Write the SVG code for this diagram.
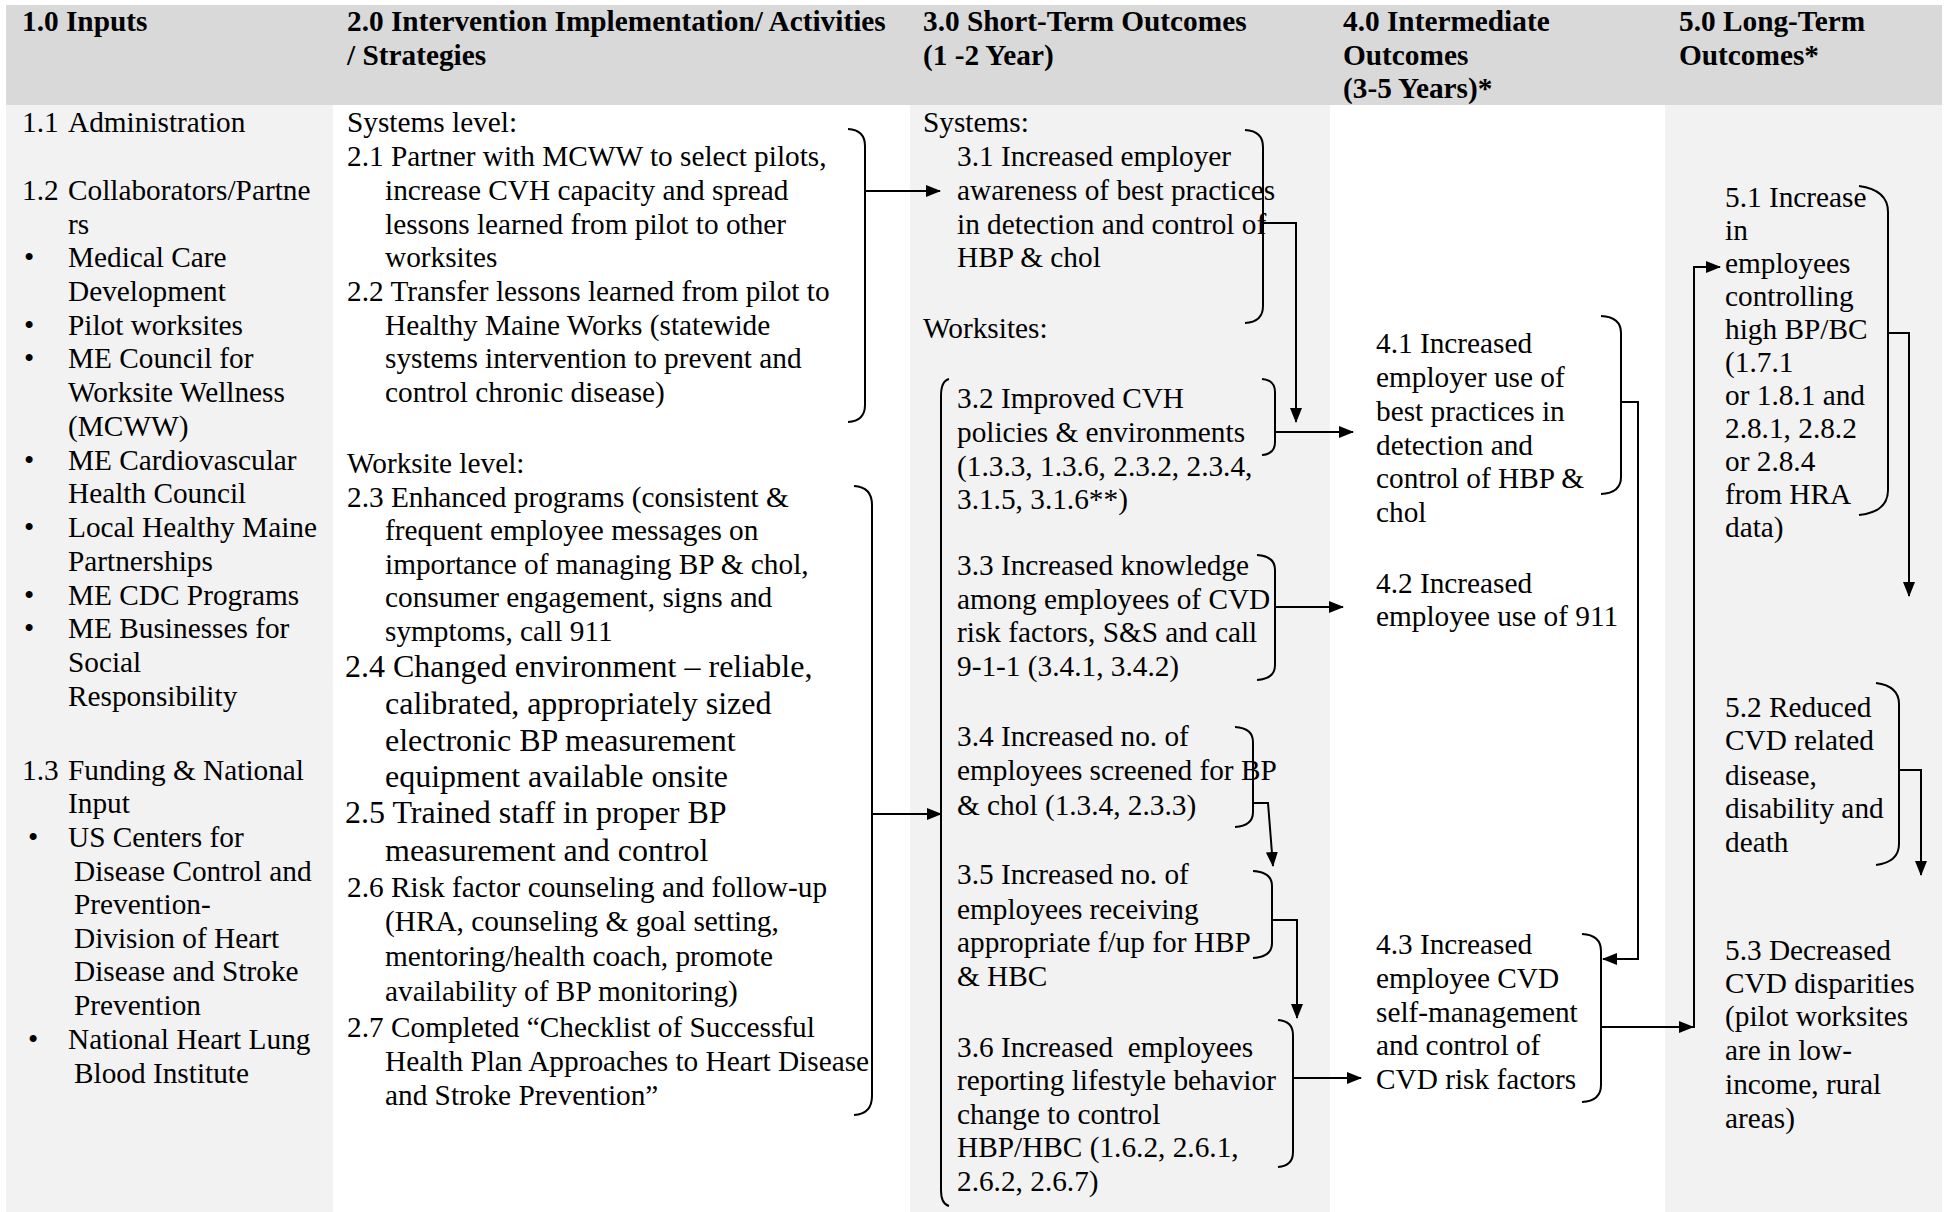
<svg xmlns="http://www.w3.org/2000/svg" width="1946" height="1212" viewBox="0 0 1946 1212">
<style>
.t{font-family:"Liberation Serif","Times New Roman",serif;font-size:29.3px;fill:#000}
.h{font-family:"Liberation Serif","Times New Roman",serif;font-size:29.3px;font-weight:bold;fill:#000}
.big{font-size:32px}
.br{fill:none;stroke:#000;stroke-width:2}
.cn{fill:none;stroke:#000;stroke-width:2}
.a{marker-end:url(#ah)}
</style>
<defs>
<marker id="ah" markerUnits="userSpaceOnUse" markerWidth="15" markerHeight="12" refX="14" refY="6" orient="auto">
<path d="M0,0 L15,6 L0,12 z" fill="#000"/>
</marker>
</defs>
<rect x="0" y="0" width="1946" height="1212" fill="#fff"/>
<g id="backgrounds">
<rect x="6" y="5" width="1936" height="100" fill="#d9d9d9"/>
<rect x="6" y="105" width="327" height="1107" fill="#f2f2f2"/>
<rect x="333" y="105" width="577" height="1107" fill="#fff"/>
<rect x="910" y="105" width="420" height="1107" fill="#f2f2f2"/>
<rect x="1330" y="105" width="335" height="1107" fill="#fff"/>
<rect x="1665" y="105" width="277" height="1107" fill="#f2f2f2"/>
</g>
<g id="header">
<text class="h" x="22" y="31">1.0 Inputs</text>
<text class="h"><tspan x="347" y="31">2.0 Intervention Implementation/ Activities</tspan><tspan x="347" y="64.5">/ Strategies</tspan></text>
<text class="h"><tspan x="923" y="31">3.0 Short-Term Outcomes</tspan><tspan x="923" y="64.5">(1 -2 Year)</tspan></text>
<text class="h"><tspan x="1343" y="31">4.0 Intermediate</tspan><tspan x="1343" y="64.5">Outcomes</tspan><tspan x="1343" y="98">(3-5 Years)*</tspan></text>
<text class="h"><tspan x="1679" y="31">5.0 Long-Term</tspan><tspan x="1679" y="64.5">Outcomes*</tspan></text>
</g>
<g id="inputs">
<text class="t"><tspan x="22" y="132">1.1</tspan><tspan x="68" y="132">Administration</tspan></text>
<text class="t"><tspan x="22" y="200">1.2</tspan><tspan x="68" y="200">Collaborators/Partne</tspan><tspan x="68" y="234">rs</tspan></text>
<text class="t">
<tspan x="24" y="267">•</tspan><tspan x="68" y="267">Medical Care</tspan><tspan x="68" y="301">Development</tspan>
<tspan x="24" y="335">•</tspan><tspan x="68" y="335">Pilot worksites</tspan>
<tspan x="24" y="368">•</tspan><tspan x="68" y="368">ME Council for</tspan><tspan x="68" y="402">Worksite Wellness</tspan><tspan x="68" y="436">(MCWW)</tspan>
<tspan x="24" y="470">•</tspan><tspan x="68" y="470">ME Cardiovascular</tspan><tspan x="68" y="503">Health Council</tspan>
<tspan x="24" y="537">•</tspan><tspan x="68" y="537">Local Healthy Maine</tspan><tspan x="68" y="571">Partnerships</tspan>
<tspan x="24" y="605">•</tspan><tspan x="68" y="605">ME CDC Programs</tspan>
<tspan x="24" y="638">•</tspan><tspan x="68" y="638">ME Businesses for</tspan><tspan x="68" y="672">Social</tspan><tspan x="68" y="706">Responsibility</tspan>
</text>
<text class="t"><tspan x="22" y="780">1.3</tspan><tspan x="68" y="780">Funding &amp; National</tspan><tspan x="68" y="813">Input</tspan></text>
<text class="t">
<tspan x="28" y="847">•</tspan><tspan x="68" y="847">US Centers for</tspan><tspan x="74" y="881">Disease Control and</tspan><tspan x="74" y="914">Prevention-</tspan><tspan x="74" y="948">Division of Heart</tspan><tspan x="74" y="981">Disease and Stroke</tspan><tspan x="74" y="1015">Prevention</tspan>
<tspan x="28" y="1049">•</tspan><tspan x="68" y="1049">National Heart Lung</tspan><tspan x="74" y="1083">Blood Institute</tspan>
</text>
</g>
<g id="activities-systems">
<text class="t" x="347" y="132">Systems level:</text>
<text class="t"><tspan x="347" y="166">2.1 Partner with MCWW to select pilots,</tspan><tspan x="385" y="200">increase CVH capacity and spread</tspan><tspan x="385" y="234">lessons learned from pilot to other</tspan><tspan x="385" y="267">worksites</tspan></text>
<text class="t"><tspan x="347" y="301">2.2 Transfer lessons learned from pilot to</tspan><tspan x="385" y="335">Healthy Maine Works (statewide</tspan><tspan x="385" y="368">systems intervention to prevent and</tspan><tspan x="385" y="402">control chronic disease)</tspan></text>
<path class="br" d="M848,129 Q865,130 865,146 L865,405 Q865,421 848,422"/>
</g>
<g id="activities-worksite">
<text class="t" x="347" y="473">Worksite level:</text>
<text class="t"><tspan x="347" y="507">2.3 Enhanced programs (consistent &amp;</tspan><tspan x="385" y="540">frequent employee messages on</tspan><tspan x="385" y="574">importance of managing BP &amp; chol,</tspan><tspan x="385" y="607">consumer engagement, signs and</tspan><tspan x="385" y="641">symptoms, call 911</tspan></text>
<text class="t big"><tspan x="345" y="677">2.4 Changed environment – reliable,</tspan><tspan x="385" y="714">calibrated, appropriately sized</tspan><tspan x="385" y="751">electronic BP measurement</tspan><tspan x="385" y="787">equipment available onsite</tspan></text>
<text class="t big"><tspan x="345" y="823">2.5 Trained staff in proper BP</tspan><tspan x="385" y="861">measurement and control</tspan></text>
<text class="t"><tspan x="347" y="897">2.6 Risk factor counseling and follow-up</tspan><tspan x="385" y="931">(HRA, counseling &amp; goal setting,</tspan><tspan x="385" y="966">mentoring/health coach, promote</tspan><tspan x="385" y="1001">availability of BP monitoring)</tspan></text>
<text class="t"><tspan x="347" y="1037">2.7 Completed “Checklist of Successful</tspan><tspan x="385" y="1071">Health Plan Approaches to Heart Disease</tspan><tspan x="385" y="1105">and Stroke Prevention”</tspan></text>
<path class="br" d="M854,486 Q872,487 872,505 L872,1096 Q872,1114 854,1115"/>
</g>
<g id="short-term-systems">
<text class="t" x="923" y="132">Systems:</text>
<text class="t"><tspan x="957" y="166">3.1 Increased employer</tspan><tspan x="957" y="200">awareness of best practices</tspan><tspan x="957" y="234">in detection and control of</tspan><tspan x="957" y="267">HBP &amp; chol</tspan></text>
<path class="br" d="M1245,130 Q1263,131 1263,147 L1263,306 Q1263,322 1245,323"/>
</g>
<g id="short-term-worksites">
<text class="t" x="923" y="338">Worksites:</text>
<path class="br" d="M949,379 Q941,381 941,396 L941,1190 Q941,1204 949,1206"/>
</g>
<g id="st-3-2">
<text class="t"><tspan x="957" y="408">3.2 Improved CVH</tspan><tspan x="957" y="442">policies &amp; environments</tspan><tspan x="957" y="476">(1.3.3, 1.3.6, 2.3.2, 2.3.4,</tspan><tspan x="957" y="509">3.1.5, 3.1.6**)</tspan></text>
<path class="br" d="M1262,379 Q1275,380 1275,392 L1275,442 Q1275,454 1262,455"/>
</g>
<g id="st-3-3">
<text class="t"><tspan x="957" y="575">3.3 Increased knowledge</tspan><tspan x="957" y="609">among employees of CVD</tspan><tspan x="957" y="642">risk factors, S&amp;S and call</tspan><tspan x="957" y="676">9-1-1 (3.4.1, 3.4.2)</tspan></text>
<path class="br" d="M1257,555 Q1275,556 1275,570 L1275,665 Q1275,679 1257,680"/>
</g>
<g id="st-3-4">
<text class="t"><tspan x="957" y="746">3.4 Increased no. of</tspan><tspan x="957" y="780">employees screened for BP</tspan><tspan x="957" y="815">&amp; chol (1.3.4, 2.3.3)</tspan></text>
<path class="br" d="M1235,727 Q1253,728 1253,742 L1253,812 Q1253,826 1235,827"/>
</g>
<g id="st-3-5">
<text class="t"><tspan x="957" y="884">3.5 Increased no. of</tspan><tspan x="957" y="919">employees receiving</tspan><tspan x="957" y="952">appropriate f/up for HBP</tspan><tspan x="957" y="986">&amp; HBC</tspan></text>
<path class="br" d="M1253,871 Q1272,872 1272,886 L1272,943 Q1272,957 1253,958"/>
</g>
<g id="st-3-6">
<text class="t"><tspan x="957" y="1057">3.6 Increased&#160; employees</tspan><tspan x="957" y="1090">reporting lifestyle behavior</tspan><tspan x="957" y="1124">change to control</tspan><tspan x="957" y="1157">HBP/HBC (1.6.2, 2.6.1,</tspan><tspan x="957" y="1191">2.6.2, 2.6.7)</tspan></text>
<path class="br" d="M1278,1020 Q1293,1021 1293,1035 L1293,1152 Q1293,1166 1278,1167"/>
</g>
<g id="int-4-1">
<text class="t"><tspan x="1376" y="353">4.1 Increased</tspan><tspan x="1376" y="387">employer use of</tspan><tspan x="1376" y="421">best practices in</tspan><tspan x="1376" y="455">detection and</tspan><tspan x="1376" y="488">control of HBP &amp;</tspan><tspan x="1376" y="522">chol</tspan></text>
<path class="br" d="M1601,316 Q1621,317 1621,333 L1621,477 Q1621,493 1601,494"/>
</g>
<g id="int-4-2">
<text class="t"><tspan x="1376" y="593">4.2 Increased</tspan><tspan x="1376" y="626">employee use of 911</tspan></text>
</g>
<g id="int-4-3">
<text class="t"><tspan x="1376" y="954">4.3 Increased</tspan><tspan x="1376" y="988">employee CVD</tspan><tspan x="1376" y="1022">self-management</tspan><tspan x="1376" y="1055">and control of</tspan><tspan x="1376" y="1089">CVD risk factors</tspan></text>
<path class="br" d="M1582,934 Q1601,935 1601,951 L1601,1085 Q1601,1101 1582,1102"/>
</g>
<g id="long-5-1">
<text class="t"><tspan x="1725" y="207">5.1 Increase</tspan><tspan x="1725" y="240">in</tspan><tspan x="1725" y="273">employees</tspan><tspan x="1725" y="306">controlling</tspan><tspan x="1725" y="339">high BP/BC</tspan><tspan x="1725" y="372">(1.7.1</tspan><tspan x="1725" y="405">or 1.8.1 and</tspan><tspan x="1725" y="438">2.8.1, 2.8.2</tspan><tspan x="1725" y="471">or 2.8.4</tspan><tspan x="1725" y="504">from HRA</tspan><tspan x="1725" y="537">data)</tspan></text>
<path class="br" d="M1859,186 Q1888,190 1888,212 L1888,490 Q1888,512 1859,515"/>
</g>
<g id="long-5-2">
<text class="t"><tspan x="1725" y="717">5.2 Reduced</tspan><tspan x="1725" y="750">CVD related</tspan><tspan x="1725" y="785">disease,</tspan><tspan x="1725" y="818">disability and</tspan><tspan x="1725" y="852">death</tspan></text>
<path class="br" d="M1876,683 Q1899,686 1899,704 L1899,844 Q1899,862 1876,865"/>
</g>
<g id="long-5-3">
<text class="t"><tspan x="1725" y="960">5.3 Decreased</tspan><tspan x="1725" y="993">CVD disparities</tspan><tspan x="1725" y="1026">(pilot worksites</tspan><tspan x="1725" y="1060">are in low-</tspan><tspan x="1725" y="1094">income, rural</tspan><tspan x="1725" y="1128">areas)</tspan></text>
</g>
<g id="connectors">
<path class="cn a" d="M865,191 H940"/>
<path class="cn a" d="M872,814 H941"/>
<path class="cn a" d="M1263,223 H1296 V422"/>
<path class="cn a" d="M1275,432 H1353"/>
<path class="cn a" d="M1275,607 H1343"/>
<path class="cn a" d="M1253,803 H1268 L1273,866"/>
<path class="cn a" d="M1272,920 H1297 V1018"/>
<path class="cn a" d="M1293,1078 H1361"/>
<path class="cn a" d="M1621,402 H1638 V959 H1603"/>
<path class="cn a" d="M1601,1027 H1693"/>
<path class="cn a" d="M1694,1028 V267 H1720"/>
<path class="cn a" d="M1888,333 H1909 V596"/>
<path class="cn a" d="M1899,770 H1921 V875"/>
</g>
</svg>
